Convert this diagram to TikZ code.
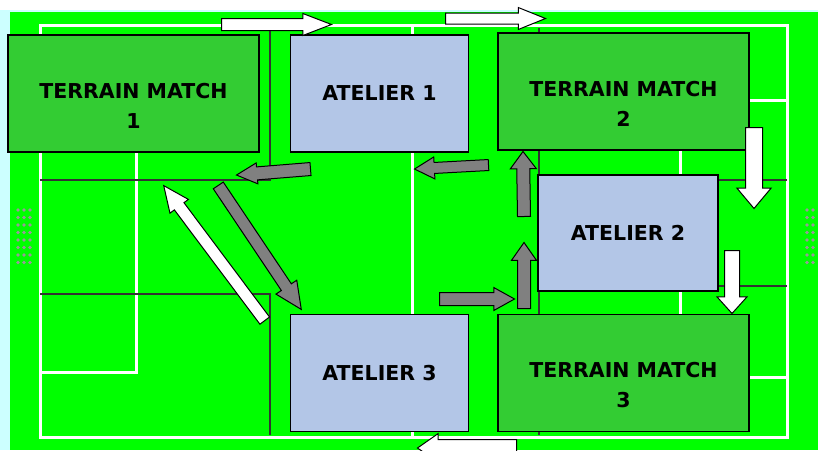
\documentclass[tikz,border=0pt]{standalone}
\usepackage{fontspec}
\setmainfont{DejaVu Sans}
\usepackage{xcolor}
\usepackage{tikz}
\usetikzlibrary{positioning, calc, shapes.arrows}

\definecolor{cesped}{HTML}{00FF00}
\definecolor{cian}{HTML}{CCFFFF}
\definecolor{verdecaja}{HTML}{33CC33}
\definecolor{azulcaja}{HTML}{B3C6E7}
\definecolor{grisflecha}{HTML}{808080}

% flecha gruesa de #2 (cola) a #3 (punta)
\newcommand{\flecha}[3]{%
  \path let \p1=(#2), \p2=(#3),
    \n1={atan2(\y2-\y1,\x2-\x1)}, \n2={veclen(\x2-\x1,\y2-\y1)} in
    node[#1, minimum height=\n2, rotate=\n1, anchor=tail] at (\p1) {};}

\begin{document}
\begin{tikzpicture}[
    x=1pt, y=-1pt,
    font=\fontsize{20.5}{30}\selectfont\bfseries,
    caja/.style={draw, line width=1.5pt, align=center, inner sep=0pt},
    terrain/.style={caja, fill=verdecaja, minimum width=251pt, minimum height=117pt,
                    text height=93pt, text depth=24pt},
    atelier/.style={caja, fill=azulcaja, minimum width=178pt, minimum height=117pt},
    linea/.style={white, line width=3pt},
    borde/.style={black!80, line width=2pt},
    flechabase/.style={single arrow, draw, line width=1pt, inner xsep=0pt,
                       single arrow head indent=0pt},
    blanca/.style={flechabase, fill=white},
    gris/.style={flechabase, fill=grisflecha}
  ]
  \useasboundingbox (0,0) rectangle (818,450);

  % --- Fondo y terreno ---
  \fill[white] (0,0) rectangle (818,450);
  \fill[cian] (0,10) rectangle (818,450);
  \fill[cesped] (10,12) rectangle (818,450);

  % --- Lineas blancas ---
  \draw[linea] (40,25) rectangle (787,437);
  \draw[linea] (412,25) -- (412,437);
  \draw[linea] (136,100) -- (136,372) -- (40,372);
  \draw[linea] (787,100) -- (680,100) -- (680,377) -- (787,377);

  % --- Lineas negras ---
  \draw[borde] (40,180) -- (270,180) -- (270,30);
  \draw[borde] (40,294) -- (270,294) -- (270,435);
  \draw[borde] (539,28) -- (539,435);
  \draw[borde] (539,180) -- (787,180);
  \draw[borde] (539,286) -- (787,286);

  % --- Porterias ---
  \foreach \i in {0,...,7}
    \foreach \j in {0,1,2}
      \fill[gray!80] (18+6*\j,210+7.5*\i) circle[radius=1.8pt];
  \foreach \i in {0,...,7}
    \foreach \j in {0,1}
      \fill[gray!80] (807+6*\j,210+7.5*\i) circle[radius=1.8pt];

  % --- Fila 1 ---
  \node[terrain] (tm1) at (133.5,93.5) {TERRAIN MATCH\\1};
  \node[atelier, right=30pt of tm1] (at1) {ATELIER 1};
  \node[terrain, right=28pt of at1, yshift=2pt] (tm2) {TERRAIN MATCH\\2};

  % --- Fila 2 ---
  \node[atelier, minimum width=180pt, minimum height=116pt] (at2) at (628,233) {ATELIER 2};

  % --- Fila 3 ---
  \node[atelier, below=161pt of at1] (at3) {ATELIER 3};
  \node[terrain, right=28pt of at3] (tm3) {TERRAIN MATCH\\3};

  % --- Extremos de las flechas ---
  \coordinate (b1a) at (221,24.5);  \coordinate (b1b) at (331,24.5);
  \coordinate (b2a) at (445,18.5);  \coordinate (b2b) at (545,18.5);
  \coordinate (b3a) at (754,127);   \coordinate (b3b) at (754,208);
  \coordinate (b4a) at (732,250);   \coordinate (b4b) at (732,313);
  \coordinate (b5a) at (517,448);   \coordinate (b5b) at (418,448);
  \coordinate (b6a) at (265,321);   \coordinate (b6b) at (164,186);
  \coordinate (g1a) at (311,169);   \coordinate (g1b) at (237,175);
  \coordinate (g2a) at (489,165);   \coordinate (g2b) at (415,169);
  \coordinate (g3a) at (524,217);   \coordinate (g3b) at (523,152);
  \coordinate (g4a) at (524,309);   \coordinate (g4b) at (524,243);
  \coordinate (g5a) at (439,299);   \coordinate (g5b) at (514,299);
  \coordinate (g6a) at (218,185);   \coordinate (g6b) at (301,309);

  % --- Rotacion (flechas blancas) ---
  \flecha{blanca, inner ysep=5.5pt, single arrow head extend=5pt, single arrow tip angle=42}{b1a}{b1b}
  \flecha{blanca, inner ysep=5pt, single arrow head extend=5.5pt, single arrow tip angle=44}{b2a}{b2b}
  \flecha{blanca, inner ysep=8pt, single arrow head extend=8.5pt, single arrow tip angle=80}{b3a}{b3b}
  \flecha{blanca, inner ysep=7pt, single arrow head extend=7.5pt, single arrow tip angle=84}{b4a}{b4b}
  \flecha{blanca, inner ysep=8pt, single arrow head extend=6pt, single arrow tip angle=70}{b5a}{b5b}
  \flecha{blanca, inner ysep=5.5pt, single arrow head extend=5.5pt, single arrow tip angle=48}{b6a}{b6b}

  % --- Rotacion (flechas grises) ---
  \flecha{gris, inner ysep=6pt, single arrow head extend=4pt, single arrow tip angle=54}{g1a}{g1b}
  \flecha{gris, inner ysep=5pt, single arrow head extend=5.5pt, single arrow tip angle=58}{g2a}{g2b}
  \flecha{gris, inner ysep=6pt, single arrow head extend=6.5pt, single arrow tip angle=74}{g3a}{g3b}
  \flecha{gris, inner ysep=6pt, single arrow head extend=6pt, single arrow tip angle=70}{g4a}{g4b}
  \flecha{gris, inner ysep=6pt, single arrow head extend=5pt, single arrow tip angle=58}{g5a}{g5b}
  \flecha{gris, inner ysep=5.5pt, single arrow head extend=6.5pt, single arrow tip angle=50}{g6a}{g6b}
\end{tikzpicture}
\end{document}
